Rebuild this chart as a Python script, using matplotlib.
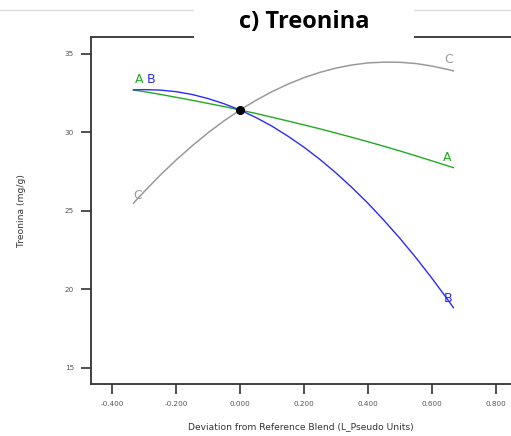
import matplotlib
matplotlib.use("Agg")
import matplotlib.pyplot as plt
from matplotlib.patches import Rectangle
from matplotlib.lines import Line2D

# deviation from reference blend
x_dev = [-0.333, -0.30, -0.25, -0.20, -0.15, -0.10, -0.05, 0.0, 0.05, 0.10, 0.15,
         0.20, 0.25, 0.30, 0.35, 0.40, 0.45, 0.50, 0.55, 0.60, 0.65, 0.667]

trace_a = [32.71, 32.60, 32.43, 32.24, 32.05, 31.85, 31.65, 31.43, 31.21, 30.97, 30.73,
           30.48, 30.23, 29.96, 29.69, 29.41, 29.12, 28.82, 28.51, 28.19, 27.87, 27.76]
trace_b = [32.71, 32.73, 32.70, 32.60, 32.42, 32.16, 31.83, 31.43, 30.95, 30.40, 29.76,
           29.06, 28.28, 27.42, 26.49, 25.49, 24.40, 23.25, 22.02, 20.71, 19.33, 18.84]
trace_c = [25.50, 26.22, 27.27, 28.24, 29.14, 29.98, 30.74, 31.43, 32.05, 32.60, 33.08,
           33.49, 33.83, 34.10, 34.30, 34.43, 34.48, 34.47, 34.39, 34.23, 34.01, 33.92]

ref_point = (0.0, 31.43)

x_ticks = [-0.4, -0.2, 0.0, 0.2, 0.4, 0.6, 0.8]
y_ticks = [15, 20, 25, 30, 35]

green = "#22aa22"
blue = "#2b2bf5"
grey = "#9a9a9a"
tick_grey = "#555555"

fig = plt.figure(figsize=(5.11, 4.36), dpi=100)
ax = fig.add_axes([0.1775, 0.1186, 0.8225, 0.7958])

ax.plot(x_dev, trace_a, color=green, lw=1.0)
ax.plot(x_dev, trace_b, color=blue, lw=1.0)
ax.plot(x_dev, trace_c, color=grey, lw=1.1)
ax.plot(*ref_point, "o", color="black", ms=5.5, zorder=5)

ax.set_xlim(-0.4667, 0.847)
ax.set_ylim(13.96, 36.06)
ax.set_xticks(x_ticks)
ax.set_xticklabels([f"{v:.3f}" for v in x_ticks])
ax.set_yticks(y_ticks)

for side in ["left", "bottom", "top"]:
    ax.spines[side].set_color("#333333")
    ax.spines[side].set_linewidth(1.3)
ax.spines["right"].set_visible(False)
ax.tick_params(axis="both", length=7, width=1.2, color="#333333",
               labelsize=5.2, labelcolor=tick_grey, pad=5)

ax.set_xlabel("Deviation from Reference Blend (L_Pseudo Units)", fontsize=6.6,
              color="#333333", labelpad=11)
ax.set_ylabel("Treonina (mg/g)", fontsize=6.6, color="#333333", labelpad=28)

# curve labels
def tag(txt, x, y, dx, dy, col):
    ax.annotate(txt, (x, y), xytext=(dx, dy), textcoords="offset pixels",
                ha="center", va="center", color=col, fontsize=9)

tag("A", x_dev[0], trace_a[0], 6, 10, green)
tag("B", x_dev[0], trace_b[0], 18, 10, blue)
tag("C", x_dev[0], trace_c[0], 4, 8, grey)
tag("A", x_dev[-1], trace_a[-1], -6, 10, green)
tag("B", x_dev[-1], trace_b[-1], -5, 9, blue)
tag("C", x_dev[-1], trace_c[-1], -5, 11, grey)

# faint page line and title box
fig.add_artist(Line2D([0, 1], [0.977, 0.977], transform=fig.transFigure,
                      color="#dddddd", lw=1.0, zorder=4))
fig.add_artist(Rectangle((0.38, 0.905), 0.43, 0.095, transform=fig.transFigure,
                         facecolor="white", edgecolor="none", zorder=5))
fig.text(0.595, 0.95, "c) Treonina", ha="center", va="center", fontsize=17,
         fontweight="bold", family="Open Sans", zorder=6)

fig.savefig("out.png", dpi=100)
